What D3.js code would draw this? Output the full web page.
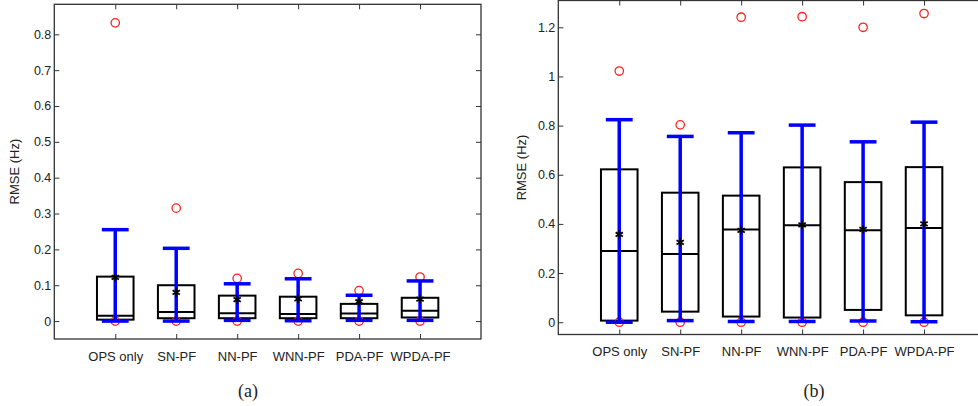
<!DOCTYPE html>
<html>
<head>
<meta charset="utf-8">
<script src="https://cdn.jsdelivr.net/npm/d3@7"></script>
<style>
  body { margin: 0; background: #fff; }
  svg { display: block; }
  text { font-family: "Liberation Sans", Arial, sans-serif; fill: #222; }
  .caption { font-family: "Liberation Serif", "Times New Roman", serif; font-size: 18px; }
</style>
</head>
<body>
<svg id="chart" width="978" height="406"></svg>
<script>
  var categories = ["OPS only", "SN-PF", "NN-PF", "WNN-PF", "PDA-PF", "WPDA-PF"];

  // panel (a)
  var aQ1      = [0.004, 0.008, 0.008, 0.008, 0.008, 0.010];
  var aMedian  = [0.015, 0.025, 0.022, 0.020, 0.021, 0.029];
  var aQ3      = [0.124, 0.100, 0.071, 0.068, 0.048, 0.065];
  var aMean    = [0.122, 0.080, 0.060, 0.062, 0.054, 0.061];
  var aWhiskLo = [0.000, 0.000, 0.002, 0.001, 0.002, 0.002];
  var aWhiskHi = [0.255, 0.203, 0.104, 0.118, 0.072, 0.112];
  var aOutHi   = [0.832, 0.315, 0.119, 0.133, 0.085, 0.123];
  var aOutLo   = [0, 0, 0, 0, 0, 0];
  var aTicks   = [0, 0.1, 0.2, 0.3, 0.4, 0.5, 0.6, 0.7, 0.8];

  // panel (b)
  var bQ1      = [0.0065, 0.043, 0.023, 0.019, 0.050, 0.028];
  var bMedian  = [0.290, 0.278, 0.377, 0.395, 0.374, 0.383];
  var bQ3      = [0.622, 0.527, 0.515, 0.630, 0.570, 0.631];
  var bMean    = [0.357, 0.325, 0.374, 0.396, 0.378, 0.400];
  var bWhiskLo = [0.000, 0.0065, 0.003, 0.003, 0.005, 0.002];
  var bWhiskHi = [0.824, 0.756, 0.771, 0.802, 0.734, 0.814];
  var bOutHi   = [1.022, 0.803, 1.241, 1.243, 1.200, 1.256];
  var bOutLo   = [0, 0, 0, 0, 0, 0];
  var bTicks   = [0, 0.2, 0.4, 0.6, 0.8, 1, 1.2];

  var svg = d3.select("#chart");

  function drawPanel(p) {
    var width = p.x1 - p.x0, height = p.y1 - p.y0;
    var g = svg.append("g").attr("transform", "translate(" + p.x0 + "," + p.y0 + ")");

    var x = d3.scaleLinear().domain([0, 7]).range([0, width]);
    var y = d3.scaleLinear().domain(p.yDomain).range([height, 0]);

    var rows = categories.map(function (c, i) {
      return { name: c, pos: i + 1, q1: p.q1[i], med: p.med[i], q3: p.q3[i], mean: p.mean[i],
               lo: p.lo[i], hi: p.hi[i], outHi: p.outHi[i], outLo: p.outLo[i] };
    });

    // axes (ticks point inward, MATLAB style)
    var fmt = function (d) { return String(+d.toFixed(1)); };
    g.append("g").call(d3.axisLeft(y).tickValues(p.ticks).tickSize(-5).tickPadding(3).tickFormat(fmt))
      .call(function (a) { a.select(".domain").remove(); a.selectAll("text").style("font-size", "12.5px"); });
    g.append("g").attr("transform", "translate(" + width + ",0)")
      .call(d3.axisRight(y).tickValues(p.ticks).tickSize(-5).tickFormat(""))
      .call(function (a) { a.select(".domain").remove(); });
    g.append("g").attr("transform", "translate(0," + height + ")")
      .call(d3.axisBottom(x).tickValues(d3.range(1, 7)).tickSize(-5).tickPadding(12.5)
        .tickFormat(function (d) { return categories[d - 1]; }))
      .call(function (a) { a.select(".domain").remove(); a.selectAll("text").style("font-size", "13px"); });
    g.append("g")
      .call(d3.axisTop(x).tickValues(d3.range(1, 7)).tickSize(-5).tickFormat(""))
      .call(function (a) { a.select(".domain").remove(); });
    g.selectAll(".tick line").attr("stroke", "#333");

    g.append("rect")
      .attr("width", width).attr("height", height)
      .attr("fill", "none").attr("stroke", "#333").attr("stroke-width", 1.3);

    var boxW = 0.6, capW = 0.44;
    var item = g.selectAll(".item").data(rows).enter().append("g").attr("class", "item");

    // box
    item.append("rect")
      .attr("x", function (d) { return x(d.pos - boxW / 2); })
      .attr("width", x(boxW) - x(0))
      .attr("y", function (d) { return y(d.q3); })
      .attr("height", function (d) { return y(d.q1) - y(d.q3); })
      .attr("fill", "none").attr("stroke", "#000").attr("stroke-width", 2);
    item.append("line")
      .attr("x1", function (d) { return x(d.pos - boxW / 2); })
      .attr("x2", function (d) { return x(d.pos + boxW / 2); })
      .attr("y1", function (d) { return y(d.med); })
      .attr("y2", function (d) { return y(d.med); })
      .attr("stroke", "#000").attr("stroke-width", 2);

    // outliers
    item.append("circle")
      .attr("cx", function (d) { return x(d.pos); })
      .attr("cy", function (d) { return y(d.outHi); })
      .attr("r", 4.2).attr("fill", "none").attr("stroke", "#ff2020").attr("stroke-width", 1.3);
    item.append("circle")
      .attr("cx", function (d) { return x(d.pos); })
      .attr("cy", function (d) { return y(d.outLo); })
      .attr("r", 4.2).attr("fill", "none").attr("stroke", "#ff2020").attr("stroke-width", 1.3);

    // blue error bar
    item.append("line")
      .attr("x1", function (d) { return x(d.pos); })
      .attr("x2", function (d) { return x(d.pos); })
      .attr("y1", function (d) { return y(d.lo); })
      .attr("y2", function (d) { return y(d.hi); })
      .attr("stroke", "#0000ff").attr("stroke-width", 3.5);
    ["lo", "hi"].forEach(function (k) {
      item.append("line")
        .attr("x1", function (d) { return x(d.pos - capW / 2); })
        .attr("x2", function (d) { return x(d.pos + capW / 2); })
        .attr("y1", function (d) { return y(d[k]); })
        .attr("y2", function (d) { return y(d[k]); })
        .attr("stroke", "#0000ff").attr("stroke-width", 3.5);
    });

    // mean marker
    item.append("path")
      .attr("d", d3.symbol().type(d3.symbolAsterisk).size(50))
      .attr("transform", function (d) { return "translate(" + x(d.pos) + "," + y(d.mean) + ")"; })
      .attr("fill", "none").attr("stroke", "#000").attr("stroke-width", 1.8);

    // y label
    svg.append("text")
      .attr("transform", "translate(" + p.labelX + "," + (p.y0 + height / 2) + ") rotate(-90)")
      .attr("text-anchor", "middle")
      .style("font-size", "13px")
      .text("RMSE (Hz)");

    svg.append("text").attr("class", "caption")
      .attr("x", p.capX).attr("y", 397)
      .attr("text-anchor", "middle")
      .text(p.caption);
  }

  drawPanel({ x0: 54.3, x1: 481, y0: 4.3, y1: 339, yDomain: [-0.05, 0.8837], ticks: aTicks,
              q1: aQ1, med: aMedian, q3: aQ3, mean: aMean, lo: aWhiskLo, hi: aWhiskHi,
              outHi: aOutHi, outLo: aOutLo, labelX: 19, capX: 248, caption: "(a)" });

  drawPanel({ x0: 558.3, x1: 985, y0: 0.5, y1: 334.5, yDomain: [-0.05, 1.309], ticks: bTicks,
              q1: bQ1, med: bMedian, q3: bQ3, mean: bMean, lo: bWhiskLo, hi: bWhiskHi,
              outHi: bOutHi, outLo: bOutLo, labelX: 526, capX: 814, caption: "(b)" });
</script>
</body>
</html>
